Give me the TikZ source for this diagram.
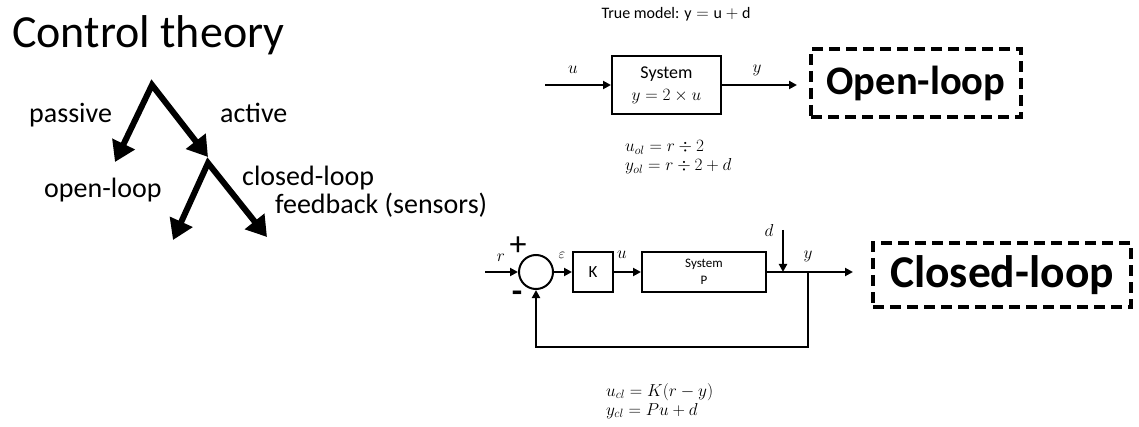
\documentclass[tikz,border=0pt]{standalone}
\usepackage{fontspec}
\setmainfont{Carlito}
\usetikzlibrary{arrows.meta}
\begin{document}
\begin{tikzpicture}[x=1pt,y=-1pt,
  treearrow/.style={line width=6pt,line join=miter,{Triangle[length=20pt,width=24pt]}-{Triangle[length=20pt,width=24pt]}},
  sig/.style={line width=2.2pt,-{Triangle[length=8pt,width=8pt]}},
  blockbox/.style={draw,line width=2pt,inner sep=0pt,align=center},
  dashbox/.style={draw,line width=3.5pt,dash pattern=on 11pt off 6pt,inner sep=0pt},
  lbl/.style={font=\fontsize{28}{30}\selectfont,inner sep=0pt,anchor=base west},
  mlbl/.style={font=\fontsize{19}{20}\selectfont,inner sep=0pt},
  eqn/.style={font=\fontsize{18}{20}\selectfont,inner sep=0pt,anchor=base west},
]
\useasboundingbox (0,0) rectangle (1139,427);

% title
\node[font=\fontsize{46}{48}\selectfont,inner sep=0pt,anchor=base west] (title) at (12,48) {Control theory};

% tree
\coordinate (t0) at (152,85);
\coordinate (t1) at (115,162);
\coordinate (t2) at (208,157);
\coordinate (t3) at (208,163);
\coordinate (t4) at (173,240);
\coordinate (t5) at (267,237);
\draw[treearrow] (t1) -- (t0) -- (t2);
\draw[treearrow] (t4) -- (t3) -- (t5);
\node[lbl] (passive) at (29,123) {passive};
\node[lbl] (active) at (220,123) {active};
\node[lbl] (openl) at (44,198) {open-loop};
\node[lbl] (closedl) at (242,186) {closed-loop};
\node[lbl] (feedb) at (275,214) {feedback (sensors)};

% open loop
\node[font=\fontsize{16}{18}\selectfont,inner sep=0pt] (truem) at (676,14) {True model: $\mathrm{y = u + d}$};
\node[blockbox,minimum width=109pt,minimum height=58pt,font=\fontsize{18}{22}\selectfont] (sys1) at (666.5,85) {System\\$y = 2\times u$};
\coordinate (in1) at (545,85);
\coordinate (out1) at (797,85);
\draw[sig] (in1) -- (sys1.west);
\draw[sig] (sys1.east) -- (out1);
\node[mlbl] (ulab1) at (573,70) {$u$};
\node[mlbl] (ylab1) at (757,70) {$y$};
\node[dashbox,minimum width=210pt,minimum height=68pt,font=\fontsize{40.5}{44}\selectfont\bfseries] (olbox) at (916,83) {Open-loop};
\node[eqn] (uol) at (625,152) {$u_{ol} = r \div 2$};
\node[eqn] (yol) at (625,171) {$y_{ol} = r \div 2 + d$};

% closed loop
\node[draw,circle,line width=2pt,minimum size=34pt,inner sep=0pt] (sum) at (536,272) {};
\node[blockbox,minimum width=40pt,minimum height=40pt,font=\fontsize{17}{19}\selectfont] (K) at (593,272) {K};
\node[blockbox,minimum width=124pt,minimum height=40pt,font=\fontsize{13}{17}\selectfont] (P) at (704,272) {System\\P};
\coordinate (rin) at (485,272);
\coordinate (yout) at (853,272);
\coordinate (dtop) at (783,230);
\coordinate (djoin) at (783,272);
\coordinate (fb) at (808,272);
\coordinate (fbc) at (808,347);
\draw[sig] (rin) -- (sum.west);
\draw[sig] (sum.east) -- (K.west);
\draw[sig] (K.east) -- (P.west);
\draw[sig] (P.east) -- (yout);
\draw[sig] (dtop) -- (djoin);
\draw[sig] (fb) -- (fbc) -| (sum.south);
\node[mlbl] (rlab) at (501,258) {$r$};
\node[font=\fontsize{34}{34}\selectfont,inner sep=0pt] (plus) at (518,246) {+};
\node[font=\fontsize{34}{34}\selectfont\bfseries,inner sep=0pt] (minus) at (517,297) {-};
\node[mlbl,font=\fontsize{15}{16}\selectfont] (elab) at (562,255) {$\varepsilon$};
\node[mlbl] (ulab2) at (622,255) {$u$};
\node[mlbl] (dlab) at (769,231) {$d$};
\node[mlbl] (ylab2) at (808,256) {$y$};
\node[dashbox,minimum width=258pt,minimum height=64pt,font=\fontsize{45.5}{48}\selectfont\bfseries] (clbox) at (1002,275) {Closed-loop};
\node[eqn] (ucl) at (606,396) {$u_{cl} = K(r - y)$};
\node[eqn] (ycl) at (606,415) {$y_{cl} = Pu + d$};
\end{tikzpicture}
\end{document}
